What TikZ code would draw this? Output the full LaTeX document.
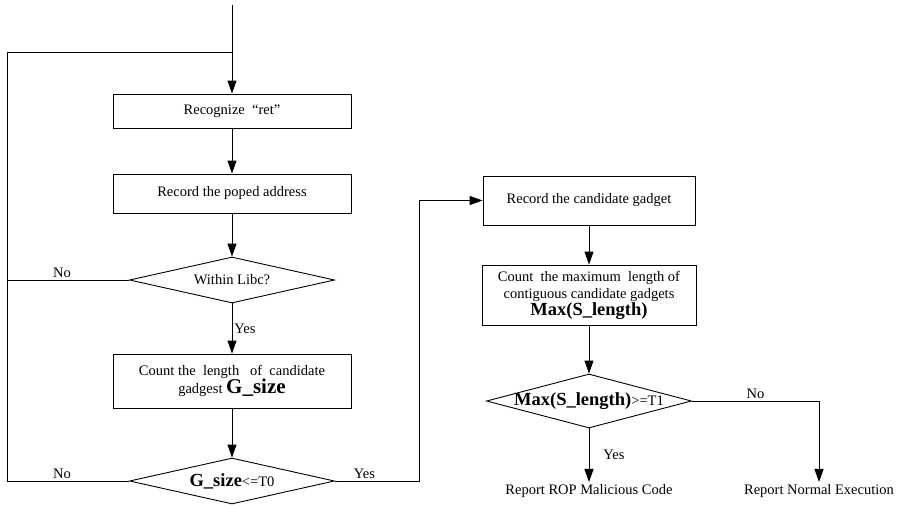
\documentclass[tikz,border=0pt]{standalone}
\usepackage{fontspec}
\setmainfont{Liberation Serif}
\usetikzlibrary{arrows.meta, positioning, shapes.geometric}
\newcommand*{\bigb}[1]{{\fontsize{18.5}{20}\bfseries\selectfont #1}}

\begin{document}
\begin{tikzpicture}[x=1pt,y=-1pt,node distance=85pt,on grid,>={Triangle[length=13pt,width=9pt]},
      line width=0.9pt,
      every node/.style={font=\fontsize{14.5}{17}\selectfont},
      box/.style={draw,rectangle,minimum width=238pt,align=center,inner sep=2pt},
      decision/.style={draw,diamond,minimum width=205pt,minimum height=46pt,inner sep=0pt,shape aspect=4.5},
      lbl/.style={inner sep=2pt}
      ]
      \useasboundingbox (0,0) rectangle (902,506);
      % left column
      \node[box,minimum height=34pt] (rec) at (232,111) {Recognize \ “ret”};
      \node[box,minimum height=39pt,below=82.5pt of rec] (addr) {Record the poped address};
      \node[decision,below=86.5pt of addr] (libc) {Within Libc?};
      \node[box,minimum height=54pt,below=101pt of libc] (count)
        {Count the\ \ length\ \ \ of\ \ candidate\\gadgest {\fontsize{21}{22}\bfseries\selectfont G\_size}};
      \node[decision,below=100pt of count] (gsize) {\bigb{G\_size}<=T0};
      % right column
      \node[box,minimum width=212pt,minimum height=49pt] (cand) at (589,200.5) {Record the candidate gadget};
      \node[box,minimum width=214pt,minimum height=60pt,below=94.5pt of cand] (maxlen)
        {Count\ \ the maximum\ \ length of\\contiguous candidate gadgets\\\bigb{Max(S\_length)}};
      \node[decision,minimum height=54pt,below=106pt of maxlen] (maxdec)
        {\makebox[0pt]{\bigb{Max(S\_length)}>=T1}};
      \node[inner sep=2pt,below=90pt of maxdec] (rop) {Report ROP Malicious Code};
      \node[inner sep=2pt,right=230pt of rop] (normal) {Report Normal Execution};

      \coordinate (start) at (232,5);
      \coordinate (lft) at (7,52);
      \coordinate (jog) at (419,201);

      \draw[->] (start) -- (rec);
      \draw[->] (rec) -- (addr);
      \draw[->] (addr) -- (libc);
      \draw[->] (libc) -- node[lbl,right] {Yes} (count);
      \draw[->] (count) -- (gsize);
      \draw (libc.west) -- node[lbl,above,pos=0.55] {No} (libc.west -| lft);
      \draw (gsize.west) -- node[lbl,above,pos=0.55] {No} (gsize.west -| lft) -- (lft) -- (lft -| rec);
      \draw[->] (gsize.east) -- node[lbl,above,pos=0.35] {Yes} (gsize.east -| jog) |- (cand.west);
      \draw[->] (cand) -- (maxlen);
      \draw[->] (maxlen) -- (maxdec);
      \draw[->] (maxdec) -- node[lbl,right,xshift=12pt] {Yes} (rop);
      \draw[->] (maxdec.east) -| node[lbl,above,pos=0.25] {No} (normal);
    \end{tikzpicture}
\end{document}
